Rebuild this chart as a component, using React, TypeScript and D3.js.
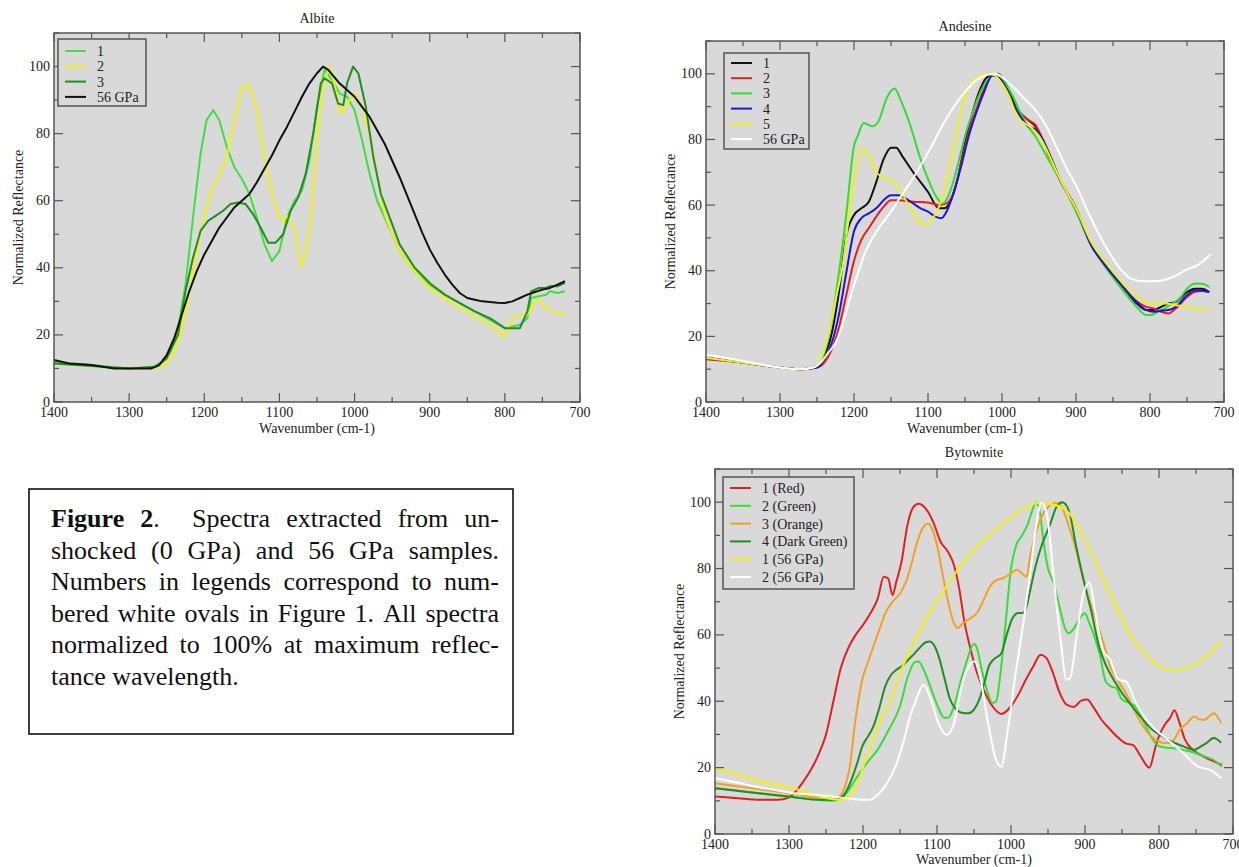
import React, { useEffect, useRef } from 'react';
import * as d3 from 'd3';

type Pt = [number, number];

// wavenumber (cm-1), normalized reflectance
const xTicks = [1400, 1300, 1200, 1100, 1000, 900, 800, 700];
const yTicks = [0, 20, 40, 60, 80, 100];

// ---- Albite ----
const albite1: Pt[] = [
  [1400, 12], [1350, 11], [1300, 10], [1270, 10.3], [1255, 12], [1245, 15], [1235, 22], [1225, 35],
  [1215, 55], [1205, 74], [1197, 84], [1188, 87], [1180, 84], [1170, 76], [1160, 70], [1150, 66.5],
  [1140, 62], [1130, 55], [1120, 47], [1110, 42], [1100, 45], [1090, 55], [1080, 60], [1070, 63],
  [1060, 72], [1050, 88], [1040, 99], [1030, 96], [1020, 92], [1010, 91], [1000, 87], [990, 78],
  [980, 68], [970, 60], [960, 55], [950, 50], [940, 45], [920, 39], [900, 35], [880, 32],
  [860, 29.5], [840, 27], [820, 24.5], [800, 22], [790, 22.5], [780, 23], [770, 25], [765, 31],
  [755, 31.5], [745, 32], [740, 33], [730, 32.5], [720, 33],
];
const albite2: Pt[] = [
  [1400, 11.5], [1300, 10], [1265, 10], [1250, 11.5], [1240, 15], [1230, 22], [1220, 32], [1210, 45],
  [1200, 56], [1190, 63], [1180, 68], [1170, 73], [1160, 84], [1150, 94], [1140, 94.5], [1130, 87],
  [1120, 73], [1110, 62], [1100, 55], [1095, 54], [1090, 55.5], [1080, 52], [1075, 45], [1070, 40.5],
  [1065, 45], [1058, 55], [1050, 80], [1040, 96], [1033, 100], [1025, 93], [1018, 86], [1010, 89],
  [1000, 92], [990, 88], [980, 80], [970, 68], [960, 56], [950, 50], [940, 45], [920, 39],
  [900, 34], [880, 31], [860, 28], [840, 25.5], [820, 23], [800, 19.5], [790, 25], [780, 26],
  [770, 26], [760, 30], [755, 30.5], [745, 28], [730, 26.5], [720, 26],
];
const albite3: Pt[] = [
  [1400, 11.5], [1300, 10], [1265, 10.5], [1250, 13], [1235, 20], [1225, 33], [1215, 43], [1205, 51],
  [1195, 54], [1185, 55.5], [1175, 57], [1165, 59], [1155, 59.5], [1145, 59], [1135, 56], [1125, 52],
  [1115, 47.5], [1105, 47.5], [1095, 50], [1085, 57], [1075, 61], [1065, 68], [1055, 80], [1045, 95],
  [1040, 96.5], [1030, 95], [1022, 89], [1015, 88.5], [1010, 95], [1002, 100], [995, 98], [985, 88],
  [975, 73], [965, 62], [950, 53], [940, 47], [920, 40], [900, 35.5], [880, 32], [860, 29.5],
  [840, 27], [820, 25], [800, 22], [785, 22], [780, 22], [770, 27], [765, 33], [755, 34],
  [745, 34], [740, 34.5], [730, 34.5], [720, 35.5],
];
const albite56: Pt[] = [
  [1400, 12.5], [1380, 11.5], [1350, 11], [1320, 10], [1300, 10], [1270, 10], [1260, 11], [1250, 14],
  [1240, 19], [1230, 26], [1220, 33], [1210, 39], [1200, 44], [1190, 48], [1180, 52], [1170, 55],
  [1160, 58], [1150, 60], [1140, 62], [1130, 65.5], [1120, 69.5], [1110, 73.5], [1100, 78], [1090, 82],
  [1080, 86.5], [1070, 91], [1060, 95], [1050, 98], [1042, 100], [1035, 99], [1020, 95], [1010, 93],
  [1000, 91], [990, 88], [980, 85], [970, 81], [960, 77], [950, 72], [940, 67], [930, 61.5],
  [920, 56], [910, 50.5], [900, 45.5], [890, 41.5], [880, 38], [870, 35], [860, 32.5], [850, 31],
  [840, 30.5], [830, 30], [820, 29.8], [810, 29.6], [800, 29.5], [790, 30], [780, 31], [770, 32],
  [760, 32.8], [750, 33.5], [740, 34], [730, 35], [720, 36],
];
const albiteNames = ['1', '2', '3', '56 GPa'];
const albiteColors = ['#3ee03e', '#f2f20a', '#1f8f1f', '#111111'];

// ---- Andesine ----
const andesine1: Pt[] = [
  [1400, 13.5], [1350, 12], [1300, 10.5], [1270, 10], [1250, 11], [1240, 14], [1230, 21], [1220, 34],
  [1210, 51], [1200, 57], [1190, 59], [1180, 61], [1170, 67], [1160, 74], [1150, 77.5], [1143, 77.5],
  [1135, 75], [1120, 70], [1100, 64], [1085, 59], [1078, 59], [1070, 61], [1060, 68], [1050, 79],
  [1040, 88], [1030, 95], [1020, 99], [1005, 100], [995, 97], [985, 92], [975, 88], [965, 86],
  [955, 84], [945, 80], [935, 75], [920, 67], [900, 59], [880, 48], [860, 41.5], [840, 36],
  [820, 30.5], [805, 28], [795, 28], [785, 29], [775, 30], [765, 30.5], [750, 33.5], [740, 34.5],
  [730, 34.5], [720, 33.5],
];
const andesine2: Pt[] = [
  [1400, 13], [1350, 12], [1300, 10.5], [1270, 10], [1250, 10.5], [1240, 12], [1230, 16], [1220, 23],
  [1210, 33], [1200, 43], [1190, 49.5], [1180, 53], [1170, 56.5], [1160, 59.5], [1150, 61.5], [1140, 61.5],
  [1120, 61], [1100, 60.8], [1085, 60], [1075, 60.5], [1065, 64], [1055, 73], [1045, 82], [1035, 89],
  [1025, 95], [1013, 99.5], [1005, 99], [995, 96], [985, 91], [975, 88], [965, 86], [955, 84.5],
  [945, 80], [935, 74], [920, 67], [900, 59], [880, 48], [860, 41.5], [840, 36], [820, 31],
  [805, 29], [795, 28.5], [785, 27.5], [775, 27], [765, 28.5], [750, 32], [740, 33.5], [730, 33.8],
  [720, 33.5],
];
const andesine3: Pt[] = [
  [1400, 13.5], [1350, 12], [1300, 10.5], [1270, 10], [1250, 11], [1240, 15], [1230, 25], [1220, 40],
  [1210, 58], [1200, 78], [1195, 81], [1187, 85], [1175, 84], [1167, 85.5], [1155, 93], [1145, 95.5],
  [1137, 92], [1125, 85], [1110, 74], [1100, 68], [1090, 63], [1080, 60.5], [1072, 63], [1060, 72],
  [1050, 81], [1040, 88], [1030, 94], [1020, 98], [1005, 100], [995, 97], [985, 93], [975, 88],
  [965, 84], [955, 81], [945, 77], [930, 71], [915, 65], [900, 58], [880, 48], [860, 41],
  [840, 35], [820, 29.5], [805, 26.5], [798, 26.5], [790, 27.5], [780, 28.5], [770, 30], [760, 31.5],
  [750, 34.5], [740, 36], [730, 36], [720, 35],
];
const andesine4: Pt[] = [
  [1400, 13.5], [1350, 12], [1300, 10.5], [1270, 10], [1250, 10.5], [1240, 13], [1230, 18], [1220, 27],
  [1210, 40], [1200, 52], [1190, 56], [1180, 57.5], [1170, 59], [1160, 61.5], [1150, 63], [1140, 63],
  [1130, 62], [1120, 60.5], [1110, 59], [1100, 58], [1090, 56.5], [1082, 56], [1075, 58], [1065, 64],
  [1055, 72], [1045, 81], [1035, 88], [1025, 94], [1013, 99.5], [1005, 99], [995, 96], [985, 91],
  [975, 87], [965, 84], [955, 83], [945, 80], [935, 75], [920, 67], [900, 59], [880, 48],
  [860, 41.5], [840, 36], [820, 31], [805, 28], [795, 27.5], [785, 27.8], [775, 28], [765, 29],
  [750, 32.5], [740, 34], [730, 34], [720, 33.5],
];
const andesine5: Pt[] = [
  [1400, 13.5], [1350, 12], [1300, 10.5], [1270, 10], [1255, 10.5], [1245, 13], [1235, 20], [1225, 31],
  [1215, 42], [1205, 60], [1195, 74], [1188, 77.5], [1180, 75], [1170, 70], [1160, 68.5], [1150, 67.5],
  [1140, 65.5], [1130, 61.5], [1120, 58], [1110, 54.5], [1105, 54], [1095, 55.5], [1085, 59.5], [1075, 67],
  [1065, 78], [1055, 89], [1045, 96], [1035, 98.5], [1020, 100], [1010, 99.5], [1000, 97], [990, 93],
  [980, 87], [970, 85], [960, 83.5], [950, 81], [940, 77], [930, 72], [915, 65], [900, 59],
  [880, 49], [860, 42.5], [840, 37], [820, 32.5], [805, 30.5], [795, 30], [780, 30], [765, 29.5],
  [750, 29], [740, 28.5], [730, 28.3], [720, 28],
];
const andesine56: Pt[] = [
  [1400, 14.5], [1350, 12.5], [1300, 10.5], [1275, 10], [1255, 10.5], [1245, 12], [1235, 15], [1225, 18],
  [1215, 24], [1205, 32], [1195, 39], [1185, 45.5], [1175, 50], [1165, 53.5], [1150, 58], [1140, 61.5],
  [1125, 66.5], [1110, 72], [1095, 78], [1080, 84.5], [1065, 90], [1050, 94.5], [1035, 98], [1020, 99.7],
  [1010, 100], [1000, 99], [985, 96], [970, 92.5], [955, 89], [940, 84], [925, 77], [910, 70],
  [900, 66], [885, 58.5], [870, 51.5], [855, 45.5], [840, 40.5], [825, 37.5], [810, 36.8], [795, 36.8],
  [780, 37.2], [765, 38.5], [750, 40.4], [735, 41.8], [725, 43.5], [718, 45],
];
const andesineNames = ['1', '2', '3', '4', '5', '56 GPa'];
const andesineColors = ['#111111', '#ee1c1c', '#2ee02e', '#1818d8', '#f2f20a', '#ffffff'];

// ---- Bytownite ----
const bytownite1: Pt[] = [
  [1400, 11.3], [1370, 10.8], [1340, 10.3], [1315, 10.3], [1300, 11], [1290, 13], [1280, 16], [1270, 19.5],
  [1260, 24], [1250, 30], [1240, 40], [1230, 50], [1220, 56], [1210, 60], [1200, 63], [1190, 66.5],
  [1180, 71], [1172, 77.5], [1166, 77], [1160, 72], [1155, 76], [1148, 82], [1140, 93], [1132, 98.5],
  [1125, 99.5], [1115, 98], [1105, 94], [1095, 88], [1085, 85], [1077, 81], [1070, 74], [1063, 64],
  [1055, 56], [1045, 48], [1035, 42.5], [1025, 38.5], [1013, 36.2], [1000, 38.5], [990, 42], [980, 46.5],
  [970, 50.5], [960, 54], [952, 53], [944, 49], [935, 43], [925, 39], [915, 38.3], [905, 40.2],
  [897, 40.5], [888, 38], [878, 34.5], [866, 31.5], [855, 29], [845, 27.3], [835, 26.8], [825, 23.5],
  [813, 20], [805, 26], [800, 29.5], [792, 33], [785, 35], [779, 37.3], [773, 34], [765, 28.5],
  [755, 25.5], [745, 24], [735, 22.8], [725, 21.8], [715, 20.8],
];
const bytownite2: Pt[] = [
  [1400, 13.8], [1350, 12.5], [1300, 11.2], [1260, 10.3], [1240, 10], [1230, 10.5], [1220, 13], [1210, 16.5],
  [1195, 21.3], [1180, 25.5], [1165, 31.5], [1150, 38.5], [1140, 47], [1130, 51.8], [1125, 52], [1118, 49.5],
  [1110, 45], [1100, 39], [1090, 35], [1085, 35], [1077, 38.5], [1068, 46], [1060, 52], [1050, 57.3],
  [1046, 56], [1040, 50], [1032, 43], [1025, 39.5], [1020, 40], [1015, 47], [1008, 62], [1000, 80],
  [993, 87], [985, 90], [978, 93], [972, 97], [966, 100], [961, 97], [956, 88], [950, 80],
  [943, 76], [935, 69], [927, 62], [922, 60.5], [915, 62], [907, 65], [900, 66.5], [895, 64],
  [888, 60], [880, 54], [872, 46], [865, 44.5], [858, 44], [850, 40.5], [840, 39.5], [832, 38.5],
  [820, 33.5], [810, 29], [800, 26.5], [790, 26], [778, 25.8], [765, 25.2], [752, 24.5], [740, 23.5],
  [726, 22.3], [715, 20.3],
];
const bytownite3: Pt[] = [
  [1400, 15.3], [1350, 13.8], [1300, 12.3], [1260, 11], [1235, 11], [1225, 14], [1218, 20], [1211, 33],
  [1201, 46.5], [1193, 52], [1186, 56.5], [1178, 61.5], [1170, 66.5], [1160, 70], [1150, 72.5], [1142, 76],
  [1135, 81], [1128, 87], [1120, 92], [1112, 93.5], [1105, 91], [1098, 85], [1092, 77.7], [1085, 70],
  [1078, 64], [1072, 62], [1065, 63.5], [1055, 65], [1046, 66.6], [1038, 70], [1030, 74], [1022, 76.2],
  [1010, 77.2], [1000, 78.5], [992, 79.7], [985, 78.5], [979, 77.5], [974, 83.7], [966, 91], [958, 96],
  [950, 98.5], [940, 99.8], [933, 99], [928, 96.8], [920, 91.5], [912, 85.7], [905, 79], [897, 72.6],
  [889, 67], [881, 61.6], [873, 56], [866, 50.5], [855, 46], [845, 42.5], [835, 38], [824, 33.4],
  [815, 30.5], [805, 28.5], [793, 27.4], [785, 27.4], [778, 29], [772, 31.4], [762, 33.4], [752, 35.4],
  [745, 34.5], [738, 34.4], [732, 35.5], [726, 36.4], [720, 35], [716, 33.4],
];
const bytownite4: Pt[] = [
  [1400, 13.8], [1350, 12.5], [1300, 11.3], [1260, 10.3], [1240, 10.3], [1228, 11.3], [1220, 14], [1214, 17.3],
  [1207, 22], [1201, 26.4], [1193, 29.5], [1186, 32.4], [1178, 38], [1170, 44.5], [1162, 48], [1155, 49.5],
  [1145, 51], [1139, 52.5], [1130, 54.5], [1124, 56], [1115, 57.8], [1110, 58], [1103, 56.5], [1097, 53],
  [1090, 47], [1083, 41], [1075, 37.8], [1065, 36.5], [1057, 36.4], [1050, 37.5], [1043, 40.5], [1036, 45.5],
  [1030, 50.5], [1024, 52.5], [1013, 54.5], [1005, 60.6], [998, 65], [990, 66.6], [984, 66.6], [979, 68.6],
  [974, 73.5], [969, 78.7], [959, 86.7], [948, 92.8], [938, 98.8], [931, 100], [925, 99], [920, 96],
  [912, 86.7], [902, 76.7], [891, 66.6], [881, 56.5], [871, 50.5], [860, 46], [850, 42.5], [840, 39.5],
  [829, 36.4], [819, 33.8], [809, 31.4], [798, 29.8], [788, 28.4], [778, 27.4], [767, 26.4], [752, 25.4],
  [745, 26.2], [736, 27.4], [726, 28.9], [716, 27.5],
];
const bytownite56a: Pt[] = [
  [1400, 19.8], [1370, 18], [1346, 16.3], [1320, 15], [1294, 13.8], [1275, 12.5], [1258, 11.3], [1240, 10.5],
  [1227, 10.3], [1219, 11.5], [1211, 13.3], [1203, 18], [1195, 23.3], [1187, 28], [1180, 32.4], [1165, 39.4],
  [1150, 48.5], [1134, 56.5], [1113, 65.6], [1087, 74.7], [1062, 82.7], [1036, 88.7], [1010, 93.8], [984, 97.8],
  [963, 99.8], [943, 99.3], [922, 96.8], [902, 89.7], [881, 79.7], [860, 69.6], [840, 60.6], [819, 54.5],
  [800, 50.5], [778, 49.3], [757, 50.5], [736, 53.5], [716, 58],
];
const bytownite56b: Pt[] = [
  [1400, 16.8], [1370, 15.5], [1346, 14.3], [1320, 13.3], [1294, 12.3], [1265, 11.8], [1242, 11.3], [1211, 10.5],
  [1191, 10.3], [1178, 12.3], [1165, 16.3], [1155, 21], [1145, 28], [1137, 35], [1129, 40], [1118, 45],
  [1108, 40.4], [1098, 33.4], [1087, 29.9], [1077, 33.4], [1067, 44.5], [1057, 50.5], [1049, 52], [1041, 46.5],
  [1031, 33.4], [1020, 22.3], [1013, 20.3], [1005, 30.4], [995, 46.5], [984, 62.6], [974, 78.7], [966, 92.8],
  [959, 99.8], [951, 95.8], [943, 78.7], [933, 58.5], [925, 46.5], [920, 47], [912, 58.5], [902, 72.6],
  [894, 75.7], [886, 66.6], [876, 55.5], [866, 52.5], [855, 46.5], [845, 46], [829, 38.4], [809, 32.4],
  [788, 28.4], [767, 24.3], [747, 20.3], [731, 19.3], [716, 16.8],
];
const bytowniteNames = ['1 (Red)', '2 (Green)', '3 (Orange)', '4 (Dark Green)', '1 (56 GPa)', '2 (56 GPa)'];
const bytowniteColors = ['#e61e1e', '#33e033', '#f5a020', '#1f8f1f', '#f2f20a', '#ffffff'];

const captionLines = [
  'Figure 2.  Spectra extracted from un-',
  'shocked (0 GPa) and 56 GPa samples.',
  'Numbers in legends correspond to num-',
  'bered white ovals in Figure 1. All spectra',
  'normalized to 100% at maximum reflec-',
  'tance wavelength.',
];

const FONT = 'Liberation Serif, Times New Roman, Times, DejaVu Serif, serif';
const PLOT_BG = '#d9d9d9';
const FRAME = '#555555';
const INK = '#222222';

const panels = [
  {
    title: 'Albite', left: 54, right: 580, top: 33, bottom: 402, titleY: 23, xLabelY: 433,
    curve: d3.curveLinear,
    series: [albite1, albite2, albite3, albite56], names: albiteNames, colors: albiteColors,
    legend: { x: 58, y: 39, w: 88, h: 67, rowY: 51, rowH: 15.3 },
  },
  {
    title: 'Andesine', left: 706, right: 1224, top: 41, bottom: 402, titleY: 31, xLabelY: 433,
    curve: d3.curveMonotoneX,
    series: [andesine1, andesine2, andesine3, andesine4, andesine5, andesine56],
    names: andesineNames, colors: andesineColors,
    legend: { x: 724, y: 53, w: 85, h: 96, rowY: 63, rowH: 15.2 },
  },
  {
    title: 'Bytownite', left: 715, right: 1233, top: 469, bottom: 834, titleY: 457, xLabelY: 864,
    curve: d3.curveMonotoneX,
    series: [bytownite1, bytownite2, bytownite3, bytownite4, bytownite56a, bytownite56b],
    names: bytowniteNames, colors: bytowniteColors,
    legend: { x: 723, y: 477, w: 131, h: 112, rowY: 488, rowH: 17.8 },
  },
];

function drawPanel(root: d3.Selection<SVGSVGElement, unknown, null, undefined>, p: typeof panels[number]) {
  const g = root.append('g');
  const x = d3.scaleLinear().domain([1400, 700]).range([p.left, p.right]);
  const y = d3.scaleLinear().domain([0, 110]).range([p.bottom, p.top]);

  g.append('rect')
    .attr('x', p.left).attr('y', p.top)
    .attr('width', p.right - p.left).attr('height', p.bottom - p.top)
    .attr('fill', PLOT_BG);

  // spectra
  const line = d3.line<Pt>().x(d => x(d[0])).y(d => y(d[1])).curve(p.curve);
  p.series.forEach((s, i) => {
    g.append('path')
      .datum(s)
      .attr('d', line)
      .attr('fill', 'none')
      .attr('stroke', p.colors[i])
      .attr('stroke-width', 2)
      .attr('stroke-linejoin', 'round');
  });

  // inward ticks on all four sides
  const tickG = g.append('g').attr('stroke', FRAME).attr('stroke-width', 1.2);
  d3.range(1400, 699, -50).forEach(v => {
    const len = v % 100 === 0 ? 9 : 5;
    tickG.append('line').attr('x1', x(v)).attr('x2', x(v)).attr('y1', p.bottom).attr('y2', p.bottom - len);
    tickG.append('line').attr('x1', x(v)).attr('x2', x(v)).attr('y1', p.top).attr('y2', p.top + len);
  });
  d3.range(0, 111, 10).forEach(v => {
    const len = v % 20 === 0 ? 9 : 5;
    tickG.append('line').attr('y1', y(v)).attr('y2', y(v)).attr('x1', p.left).attr('x2', p.left + len);
    tickG.append('line').attr('y1', y(v)).attr('y2', y(v)).attr('x1', p.right).attr('x2', p.right - len);
  });

  g.append('rect')
    .attr('x', p.left).attr('y', p.top)
    .attr('width', p.right - p.left).attr('height', p.bottom - p.top)
    .attr('fill', 'none').attr('stroke', FRAME).attr('stroke-width', 1.5);

  // tick labels
  const txt = g.append('g').style('font-family', FONT).attr('font-size', 14).attr('fill', INK);
  xTicks.forEach(v => {
    txt.append('text').attr('x', x(v)).attr('y', p.bottom + 15).attr('text-anchor', 'middle').text(v);
  });
  yTicks.forEach(v => {
    txt.append('text').attr('x', p.left - 4).attr('y', y(v) + 4.5).attr('text-anchor', 'end').text(v);
  });

  // title and axis labels
  txt.append('text').attr('x', (p.left + p.right) / 2).attr('y', p.titleY).attr('text-anchor', 'middle').text(p.title);
  txt.append('text').attr('x', (p.left + p.right) / 2).attr('y', p.xLabelY).attr('text-anchor', 'middle').text('Wavenumber (cm-1)');
  txt.append('text')
    .attr('transform', `translate(${p.left - 31},${(p.top + p.bottom) / 2}) rotate(-90)`)
    .attr('text-anchor', 'middle')
    .text('Normalized Reflectance');

  // legend
  const L = p.legend;
  const lg = g.append('g');
  lg.append('rect')
    .attr('x', L.x).attr('y', L.y).attr('width', L.w).attr('height', L.h)
    .attr('fill', PLOT_BG).attr('stroke', FRAME).attr('stroke-width', 1.5);
  p.names.forEach((name, i) => {
    const ry = L.rowY + i * L.rowH;
    lg.append('line')
      .attr('x1', L.x + 7).attr('x2', L.x + 28).attr('y1', ry).attr('y2', ry)
      .attr('stroke', p.colors[i]).attr('stroke-width', 2);
    lg.append('text')
      .attr('x', L.x + 39).attr('y', ry + 5)
      .style('font-family', FONT).attr('font-size', 14).attr('fill', INK)
      .text(name);
  });
}

function drawCaption(root: d3.Selection<SVGSVGElement, unknown, null, undefined>) {
  root.append('rect')
    .attr('x', 29).attr('y', 489).attr('width', 484).attr('height', 245)
    .attr('fill', '#ffffff').attr('stroke', '#111111').attr('stroke-width', 1.6);

  const g = root.append('g').style('font-family', FONT).attr('font-size', 26).attr('fill', '#111111');
  const left = 51;
  const right = 499;
  captionLines.forEach((lineText, li) => {
    const baseY = 527 + li * 31.5;
    const words = lineText.split(/ +/);
    const weights: number[] = [];
    lineText.replace(/ +/g, m => { weights.push(m.length); return m; });
    const nodes = words.map((w, wi) => {
      const t = g.append('text').attr('y', baseY);
      if (li === 0 && wi === 0) {
        t.append('tspan').attr('font-weight', 'bold').text(w);
      } else if (li === 0 && wi === 1) {
        t.append('tspan').attr('font-weight', 'bold').text('2');
        t.append('tspan').text('.');
      } else {
        t.text(w);
      }
      return t;
    });
    const widths = nodes.map(n => (n.node() as SVGTextElement).getComputedTextLength());
    const total = d3.sum(widths);
    const last = li === captionLines.length - 1;
    const wsum = d3.sum(weights);
    const unit = last ? 6.5 : (right - left - total) / wsum;
    let cx = left;
    nodes.forEach((n, i) => {
      n.attr('x', cx);
      cx += widths[i] + (i < weights.length ? weights[i] * unit : 0);
    });
  });
}

export default function App() {
  const ref = useRef<SVGSVGElement>(null);

  useEffect(() => {
    if (!ref.current) return;
    const svg = d3.select(ref.current);
    svg.selectAll('*').remove();
    svg.append('rect').attr('width', 1239).attr('height', 867).attr('fill', '#ffffff');
    panels.forEach(p => drawPanel(svg, p));
    drawCaption(svg);
  }, []);

  return (
    <svg
      ref={ref}
      width={1239}
      height={867}
      style={{ position: 'absolute', left: 0, top: 0, display: 'block' }}
    />
  );
}
